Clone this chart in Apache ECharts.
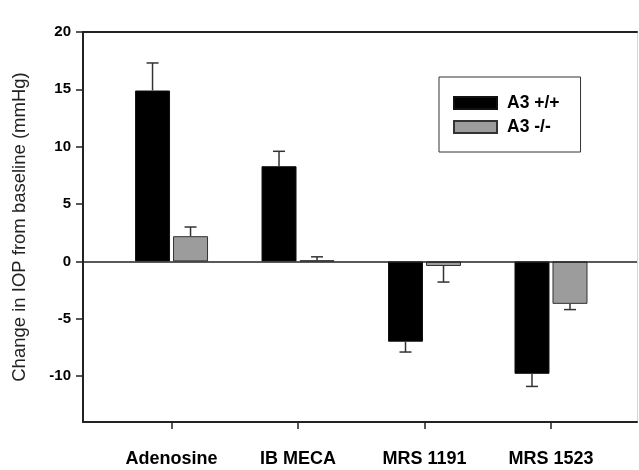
<!DOCTYPE html>
<html>
<head>
<meta charset="utf-8">
<script src="https://cdn.jsdelivr.net/npm/echarts@6/dist/echarts.min.js"></script>
<style>
  html, body { margin: 0; padding: 0; background: #fff; }
  #chart { width: 639px; height: 470px; }
</style>
</head>
<body>
<div id="chart"></div>
<script>
// drug groups, placed at x = 1..4 on the axis
const categories = ["Adenosine", "IB MECA", "MRS 1191", "MRS 1523"];
const positions = [1, 2, 3, 4];

// A3 +/+ (wild type) and A3 -/- (knockout), change in IOP, mmHg
const wildType = [14.9, 8.3, -7.0, -9.8];
const wildTypeErr = [2.4, 1.3, 0.9, 1.1];
const knockout = [2.2, 0.1, -0.4, -3.7];
const knockoutErr = [0.8, 0.3, 1.4, 0.5];

const yTicks = [-10, -5, 0, 5, 10, 15, 20];

const FONT = "'Liberation Sans', Arial, Helvetica, sans-serif";
const BAR_W = 35;
const BAR_GAP = 3;

// one-sided error bar (away from zero) with a small cap
function errorBar(offset) {
  return function (params, api) {
    const x = api.value(0);
    const y = api.value(1);
    const err = api.value(2);
    const end = y >= 0 ? y + err : y - err;
    const p0 = api.coord([x, y]);
    const p1 = api.coord([x, end]);
    const cx = p0[0] + offset;
    const style = { stroke: "#333", lineWidth: 1.5 };
    return {
      type: "group",
      children: [
        { type: "line", shape: { x1: cx, y1: p0[1], x2: cx, y2: p1[1] }, style },
        { type: "line", shape: { x1: cx - 6, y1: p1[1], x2: cx + 6, y2: p1[1] }, style }
      ]
    };
  };
}

const chart = echarts.init(document.getElementById("chart"));

const xRange = { min: 0.3, max: 4.68 };
const yRange = { min: -14, max: 20 };

chart.setOption({
  animation: false,
  textStyle: { fontFamily: FONT },
  grid: { left: 83, right: 2, top: 32, bottom: 48 },
  legend: {
    orient: "vertical",
    left: 439,
    top: 77,
    padding: [17, 21, 16, 14],
    itemGap: 6,
    itemWidth: 43,
    itemHeight: 12,
    icon: "rect",
    borderColor: "#333",
    borderWidth: 1,
    textStyle: { fontSize: 17.5, fontWeight: "bold", color: "#000", padding: [0, 0, 0, 5] },
    data: ["A3 +/+", "A3 -/-"]
  },
  xAxis: [
    {
      type: "value",
      ...xRange,
      axisLine: { onZero: false, lineStyle: { color: "#222", width: 2 } },
      axisTick: { show: true, customValues: positions, length: 7, lineStyle: { color: "#222", width: 1.5 } },
      axisLabel: {
        customValues: positions,
        formatter: v => categories[positions.indexOf(v)] || "",
        fontSize: 18,
        fontWeight: "bold",
        color: "#000",
        margin: 28
      },
      splitLine: { show: false }
    },
    {
      type: "value",
      position: "top",
      ...xRange,
      axisLine: { onZero: false, lineStyle: { color: "#222", width: 2 } },
      axisTick: { show: false },
      axisLabel: { show: false },
      splitLine: { show: false }
    }
  ],
  yAxis: [
    {
      type: "value",
      ...yRange,
      name: "Change in IOP from baseline (mmHg)",
      nameLocation: "middle",
      nameGap: 54,
      nameTextStyle: { fontSize: 18.5, color: "#222" },
      axisLine: { show: true, lineStyle: { color: "#222", width: 2 } },
      axisTick: { show: true, customValues: yTicks, length: 7, lineStyle: { color: "#222", width: 1.5 } },
      axisLabel: { customValues: yTicks, fontSize: 15, fontWeight: "bold", color: "#000", margin: 12 },
      splitLine: { show: false }
    },
    {
      type: "value",
      position: "right",
      ...yRange,
      axisLine: { show: true, lineStyle: { color: "#d6d6d6", width: 1 } },
      axisTick: { show: false },
      axisLabel: { show: false },
      splitLine: { show: false }
    }
  ],
  series: [
    {
      name: "A3 +/+",
      type: "bar",
      barWidth: BAR_W,
      barGap: (BAR_GAP / BAR_W * 100) + "%",
      itemStyle: { color: "#000", borderColor: "#111", borderWidth: 1 },
      data: wildType.map((v, i) => [positions[i], v]),
      markLine: {
        silent: true,
        symbol: "none",
        label: { show: false },
        lineStyle: { color: "#222", width: 1.5, type: "solid" },
        data: [{ yAxis: 0 }]
      },
      z: 2
    },
    {
      name: "A3 -/-",
      type: "bar",
      barWidth: BAR_W,
      barGap: (BAR_GAP / BAR_W * 100) + "%",
      itemStyle: { color: "#9c9c9c", borderColor: "#333", borderWidth: 1 },
      data: knockout.map((v, i) => [positions[i], v]),
      z: 2
    },
    {
      type: "custom",
      renderItem: errorBar(-(BAR_W + BAR_GAP) / 2),
      data: wildType.map((v, i) => [positions[i], v, wildTypeErr[i]]),
      z: 3,
      silent: true
    },
    {
      type: "custom",
      renderItem: errorBar((BAR_W + BAR_GAP) / 2),
      data: knockout.map((v, i) => [positions[i], v, knockoutErr[i]]),
      z: 3,
      silent: true
    }
  ]
});
</script>
</body>
</html>
